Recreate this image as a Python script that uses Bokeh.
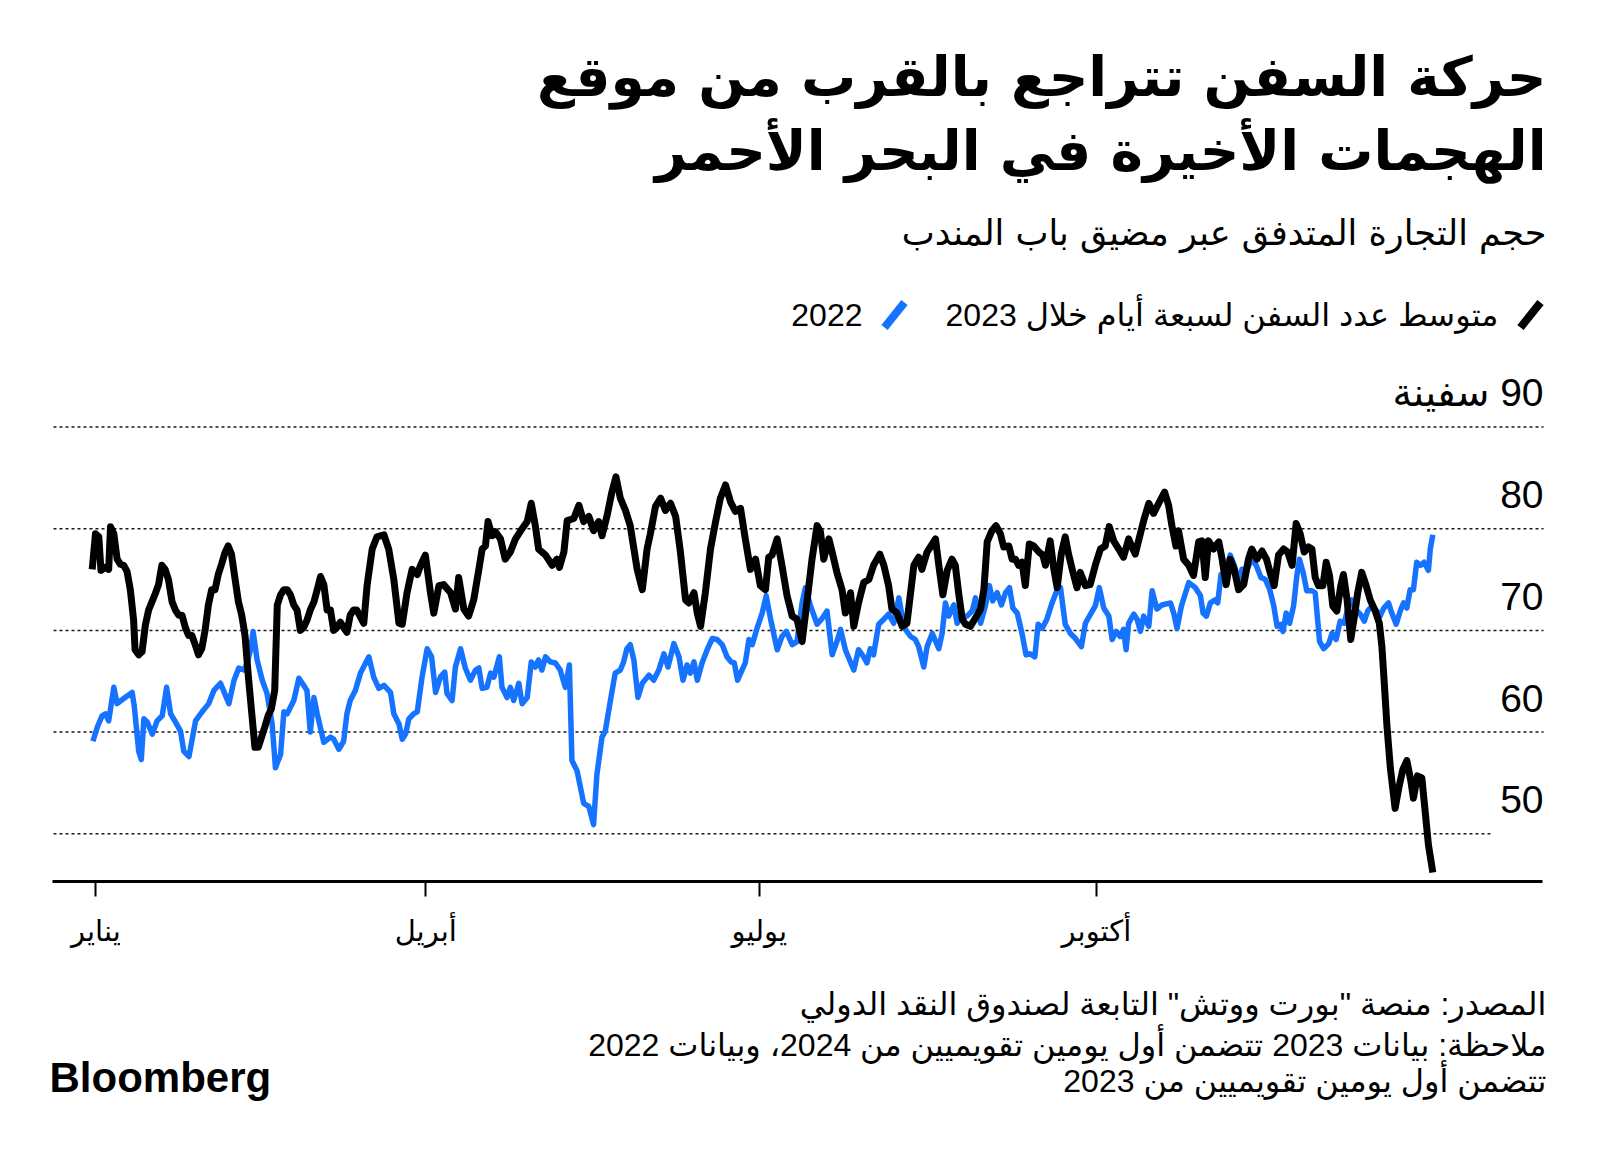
from bokeh.plotting import figure
from bokeh.models import Range1d, FixedTicker
from bokeh.layouts import column
from bokeh.embed import file_html
from bokeh.resources import INLINE
from bokeh.core.properties import value

# ---------------- data ----------------
# day of year (0 = 1 Jan), 7-day average number of ships
ships_2023_day = [0, 0.9, 1.8, 2.4, 3.5, 4.5, 5.0, 5.9, 6.8, 7.7, 8.6, 9.5, 10.4, 11.3, 11.7, 12.7, 13.6, 14.5, 15.4, 16.3,
                  17.2, 18.1, 19.0, 19.9, 20.8, 21.8, 22.7, 23.6, 24.5, 25.4, 26.3, 27.2, 28.1, 29.0, 29.9, 30.8, 31.7,
                  32.6, 33.5, 34.4, 35.3, 36.2, 37.1, 38.0, 39.0, 39.9, 40.8, 41.7, 42.6, 43.5, 44.4, 45.3, 46.2, 47.1,
                  48.0, 48.9, 49.8, 50.5, 51.4, 52.3, 53.2, 54.1, 55.0, 55.9, 56.8, 57.7, 58.6, 59.5, 60.5, 61.4, 62.3,
                  63.2, 64.1, 65.0, 65.9, 66.8, 67.7, 68.6, 69.5, 70.4, 71.3, 72.2, 74.1, 75.0, 76.4, 77.7, 79.6, 80.9,
                  82.3, 83.7, 84.6, 85.9, 87.3, 88.7, 89.6, 90.9, 92.3, 93.2, 94.6, 95.9, 97.8, 99.1, 100.0, 101.4,
                  102.7, 104.1, 105.5, 106.4, 107.3, 108.0, 109.1, 110.0, 111.4, 112.7, 114.1, 115.5, 117.3, 118.7,
                  119.8, 120.9, 121.8, 123.7, 125.5, 126.8, 127.5, 128.7, 129.6, 131.4, 132.8, 134.1, 135.5, 136.8,
                  138.2, 139.1, 140.5, 141.8, 142.9, 144.1, 145.5, 146.8, 148.7, 150.1, 151.4, 152.3, 153.7, 155.1,
                  156.4, 157.8, 159.2, 160.5, 161.9, 162.8, 164.2, 165.1, 166.0, 167.3, 168.7, 170.1, 171.4, 172.8,
                  174.2, 175.5, 176.9, 178.2, 179.6, 181.0, 182.3, 183.7, 184.6, 185.5, 186.9, 188.2, 189.6, 191.0,
                  192.3, 193.7, 195.1, 196.4, 197.8, 198.7, 199.6, 201.0, 201.9, 203.2, 204.6, 205.5, 206.9, 207.8,
                  209.1, 210.5, 211.9, 213.2, 214.9, 216.0, 217.3, 218.2, 219.6, 221.0, 222.3, 224.2, 225.5, 226.4,
                  227.8, 228.7, 230.1, 231.0, 232.1, 233.3, 234.6, 235.5, 236.4, 237.4, 238.3, 239.6, 241.0, 242.4,
                  243.3, 244.2, 245.5, 246.6, 247.8, 248.7, 250.1, 251.0, 251.9, 252.8, 253.7, 254.6, 255.7, 256.9,
                  258.3, 259.4, 260.1, 261.4, 262.4, 263.3, 264.4, 265.5, 266.4, 267.4, 268.7, 269.6, 271.0, 272.3,
                  273.7, 275.1, 276.4, 277.5, 278.7, 280.1, 281.4, 282.8, 283.7, 284.6, 285.5, 286.9, 288.3, 289.6,
                  291.0, 292.6, 293.7, 294.6, 295.7, 296.4, 297.8, 299.2, 300.5, 301.9, 302.8, 303.7, 304.6, 306.0,
                  307.4, 308.3, 309.4, 310.5, 311.6, 312.8, 314.2, 315.5, 316.4, 317.8, 319.2, 320.4, 321.4, 322.5,
                  323.7, 325.1, 326.2, 327.4, 328.5, 329.6, 330.7, 331.9, 332.8, 333.7, 334.6, 335.8, 336.7, 337.6,
                  338.5, 339.6, 340.7, 341.4, 342.4, 343.4, 344.4, 345.3, 346.4, 347.6, 348.7, 350.1, 351.2, 351.9,
                  352.5, 353.3, 354.2, 355.5, 356.5, 357.6, 358.7, 359.8, 360.5, 361.6, 362.8, 363.7, 364.6, 365.8]
ships_2023 = [76.0, 79.5, 79.2, 75.9, 76.2, 76.0, 80.2, 79.5, 77.0, 76.5, 76.4, 75.8, 74.0, 71.0, 68.1, 67.6, 67.9, 70.5,
              72.0, 72.8, 73.6, 74.5, 76.4, 76.0, 75.0, 72.8, 72.0, 71.5, 71.5, 70.3, 69.5, 69.5, 68.6, 67.6, 68.2, 70.0,
              72.5, 74.0, 74.0, 75.5, 76.5, 77.6, 78.3, 77.5, 75.0, 72.8, 71.5, 69.5, 65.5, 62.0, 58.5, 58.5, 59.5, 60.5,
              61.6, 62.3, 64.1, 72.5, 73.5, 74.0, 74.0, 73.5, 72.5, 72.0, 70.0, 70.3, 71.0, 72.0, 72.8, 74.0, 75.3, 74.5,
              72.0, 72.0, 70.0, 70.3, 70.8, 70.3, 69.8, 71.5, 72.0, 72.0, 70.7, 74.4, 78.0, 79.2, 79.4, 78.0, 75.0, 70.7,
              70.6, 73.7, 76.0, 75.5, 76.4, 77.4, 73.7, 71.7, 74.4, 74.5, 73.7, 72.1, 75.2, 72.1, 71.4, 73.0, 76.0, 78.0,
              78.3, 80.7, 79.3, 79.7, 79.0, 77.0, 77.7, 79.0, 80.0, 80.7, 82.5, 80.3, 78.0, 77.4, 76.4, 77.0, 76.2, 77.7,
              80.8, 81.0, 82.3, 80.7, 81.2, 79.8, 80.7, 79.3, 81.3, 83.6, 85.1, 83.0, 81.8, 80.3, 76.0, 74.0, 78.0, 79.5,
              82.2, 83.0, 81.8, 82.5, 81.2, 77.7, 73.0, 72.7, 73.7, 71.7, 70.4, 73.7, 78.0, 80.7, 83.0, 84.3, 82.6, 81.7,
              82.0, 79.0, 76.0, 77.0, 74.4, 74.0, 77.2, 77.4, 79.0, 76.4, 73.4, 71.4, 71.1, 68.9, 73.0, 77.0, 80.3, 79.7,
              77.0, 79.0, 77.7, 75.7, 74.0, 71.7, 73.7, 70.4, 72.7, 74.7, 75.0, 76.4, 77.5, 76.4, 74.4, 72.1, 71.7, 70.4,
              70.7, 76.4, 77.2, 76.0, 77.7, 78.2, 79.0, 76.4, 73.5, 75.9, 77.0, 76.4, 73.7, 71.1, 70.6, 70.4, 71.2, 72.1,
              74.0, 78.7, 79.8, 80.3, 79.5, 78.2, 78.3, 77.0, 77.0, 76.4, 76.7, 74.4, 78.5, 78.3, 77.7, 77.4, 76.4, 78.8,
              76.0, 74.2, 77.5, 79.2, 77.5, 76.0, 74.2, 75.7, 74.4, 74.5, 76.4, 78.0, 78.3, 80.2, 78.8, 78.0, 77.2, 79.0,
              78.2, 77.5, 78.8, 80.8, 82.5, 81.5, 82.5, 83.6, 82.3, 80.3, 78.3, 79.8, 77.0, 76.4, 75.4, 78.7, 78.8, 75.2,
              78.8, 78.0, 78.7, 77.0, 74.5, 77.0, 76.0, 74.0, 74.5, 77.0, 78.0, 77.0, 77.8, 77.0, 75.7, 74.4, 77.4, 78.0,
              77.7, 76.4, 80.5, 79.5, 77.7, 78.2, 78.0, 75.2, 74.4, 74.4, 76.7, 75.4, 72.4, 71.9, 74.4, 75.5, 73.0, 69.1,
              71.4, 73.7, 75.7, 74.4, 73.0, 71.9, 70.7, 68.4, 65.1, 60.5, 56.5, 52.5, 54.5, 56.3, 57.2, 55.2, 53.5, 55.7,
              55.5, 52.2, 48.9, 46.2]

ships_2022_day = [0.2, 1.4, 2.7, 3.6, 4.5, 5.9, 6.8, 8.6, 10.9, 11.5, 12.7, 13.4, 14.1, 15.0, 16.4, 17.7, 19.1, 20.3,
                  21.4, 22.7, 24.1, 25.0, 26.4, 28.2, 30.0, 31.8, 33.2, 35.0, 37.3, 38.7, 40.0, 41.4, 42.3, 43.2, 43.9,
                  45.0, 46.4, 47.7, 49.1, 50.0, 51.4, 52.3, 53.2, 55.0, 56.4, 57.7, 58.6, 59.5, 60.5, 61.4, 63.2, 65.0,
                  65.9, 67.3, 68.6, 69.5, 70.4, 71.8, 73.2, 75.5, 76.8, 78.2, 79.6, 81.4, 82.3, 83.7, 84.6, 85.5, 86.4,
                  87.7, 88.7, 90.0, 91.4, 92.6, 93.7, 95.0, 96.2, 96.8, 98.2, 99.1, 100.5, 101.8, 103.2, 104.6, 105.5,
                  106.4, 107.7, 108.7, 109.6, 111.1, 111.8, 113.2, 114.1, 115.0, 116.4, 117.3, 118.7, 119.8, 120.9,
                  121.8, 122.7, 123.7, 125.0, 126.4, 127.7, 129.1, 130.2, 130.9, 132.3, 134.1, 135.5, 136.8, 137.7,
                  139.1, 140.0, 141.4, 142.7, 144.1, 145.0, 145.9, 146.8, 147.8, 148.9, 150.1, 151.9, 153.2, 154.6,
                  156.0, 157.1, 158.7, 160.1, 161.2, 162.3, 163.2, 164.2, 165.1, 166.4, 167.8, 169.2, 170.5, 171.9,
                  173.2, 174.3, 175.2, 176.1, 177.3, 178.2, 179.2, 180.1, 181.4, 182.8, 183.9, 185.1, 186.9, 188.2,
                  189.4, 191.0, 192.3, 193.7, 194.6, 196.0, 197.8, 199.2, 200.5, 201.9, 203.2, 204.2, 205.5, 207.8,
                  209.1, 210.5, 211.4, 212.3, 213.2, 214.6, 216.0, 217.3, 218.7, 220.1, 221.0, 221.9, 223.3, 224.6,
                  225.5, 226.9, 227.8, 229.2, 231.0, 231.9, 232.8, 233.7, 235.1, 236.0, 237.4, 238.7, 240.1, 241.0,
                  242.4, 243.7, 244.8, 245.7, 246.9, 248.1, 249.2, 250.3, 251.2, 252.4, 253.7, 254.8, 255.9, 257.2,
                  258.1, 259.2, 260.5, 261.9, 263.3, 264.2, 265.5, 266.9, 268.3, 269.9, 271.0, 272.4, 273.7, 274.8,
                  276.0, 277.4, 278.3, 279.4, 280.5, 281.4, 282.1, 282.8, 284.2, 285.1, 286.0, 286.9, 288.3, 289.2,
                  290.5, 291.9, 294.2, 295.1, 296.0, 297.2, 299.2, 301.0, 302.4, 303.1, 304.0, 305.1, 306.4, 307.1,
                  308.0, 309.2, 310.5, 311.6, 312.8, 313.7, 315.1, 316.4, 317.6, 318.9, 320.1, 321.3, 322.4, 323.3,
                  324.2, 324.9, 325.8, 326.7, 327.8, 328.7, 329.4, 330.4, 331.4, 332.8, 333.7, 334.9, 336.0, 337.4,
                  338.3, 339.4, 340.5, 341.6, 342.8, 343.7, 344.6, 346.0, 347.1, 348.0, 349.2, 350.5, 351.4, 352.4,
                  353.7, 354.6, 355.8, 356.9, 357.8, 358.7, 359.6, 360.5, 361.4, 362.4, 363.4, 364.6, 365.1, 365.8]
ships_2022 = [59.1, 60.5, 61.6, 61.8, 61.1, 64.4, 62.8, 63.3, 63.9, 62.5, 58.1, 57.3, 61.3, 61.0, 59.8, 61.1, 61.6, 64.4,
              61.8, 61.0, 60.1, 58.1, 57.6, 61.1, 62.0, 62.8, 64.1, 64.8, 62.8, 65.1, 66.3, 66.1, 66.8, 68.1, 69.9, 67.1,
              65.1, 63.8, 60.8, 56.5, 57.8, 62.0, 61.8, 63.1, 65.3, 64.6, 64.1, 60.0, 63.4, 61.8, 59.0, 59.5, 59.3, 58.3,
              59.1, 61.8, 63.1, 64.1, 65.8, 67.4, 65.4, 64.3, 64.6, 63.9, 61.8, 60.8, 59.3, 59.8, 61.3, 61.8, 62.0, 65.4,
              68.2, 67.4, 63.9, 65.4, 65.9, 63.8, 63.1, 66.4, 68.2, 66.3, 65.1, 66.1, 66.3, 64.3, 64.4, 65.8, 65.4, 67.4,
              64.4, 63.4, 64.4, 63.1, 64.8, 62.8, 63.4, 66.9, 66.4, 67.1, 66.1, 67.4, 66.9, 66.8, 66.1, 64.4, 66.6, 57.2,
              56.2, 53.0, 52.7, 50.9, 55.8, 59.5, 60.1, 63.1, 65.8, 66.1, 66.9, 68.2, 68.6, 67.1, 63.4, 64.8, 65.6, 65.1,
              66.1, 67.7, 66.4, 68.7, 67.4, 65.1, 66.6, 65.8, 66.9, 65.1, 66.8, 68.1, 69.2, 69.1, 68.6, 67.4, 66.9, 66.8,
              65.1, 66.1, 66.8, 69.1, 68.6, 70.2, 71.7, 73.4, 71.1, 68.1, 69.4, 69.9, 68.6, 68.9, 72.7, 74.2, 72.4, 70.6,
              71.2, 71.9, 67.6, 68.9, 70.1, 68.1, 66.1, 68.1, 67.4, 66.8, 68.2, 67.6, 70.6, 71.1, 71.6, 70.7, 73.2, 71.4,
              70.1, 69.4, 69.1, 68.4, 66.4, 68.4, 69.7, 68.2, 69.7, 72.7, 71.4, 72.5, 70.7, 71.4, 71.4, 71.9, 73.2, 70.7,
              72.4, 74.4, 72.9, 73.7, 72.5, 73.7, 74.2, 72.2, 71.7, 69.7, 67.6, 67.7, 67.4, 70.6, 70.2, 71.1, 72.7, 74.0,
              74.2, 70.6, 69.7, 69.2, 68.4, 70.7, 71.6, 72.4, 74.2, 72.2, 71.4, 69.1, 69.9, 69.4, 70.1, 68.1, 70.7, 71.6,
              71.1, 69.9, 71.4, 70.4, 73.9, 72.1, 72.5, 72.7, 71.7, 70.2, 72.4, 74.7, 74.2, 73.4, 71.7, 71.4, 72.7, 73.0,
              72.7, 75.5, 75.7, 77.4, 76.4, 74.7, 76.0, 76.0, 77.0, 76.4, 75.2, 75.0, 74.0, 72.4, 70.4, 70.6, 69.9, 71.7,
              70.7, 72.4, 75.4, 77.0, 75.7, 73.9, 73.9, 73.7, 68.9, 68.2, 68.7, 69.7, 69.1, 70.9, 70.7, 72.4, 73.0, 72.1,
              71.6, 70.9, 71.9, 72.4, 71.9, 71.4, 72.2, 72.7, 71.7, 70.6, 71.9, 72.7, 72.2, 74.0, 74.0, 76.7, 76.4, 76.7,
              75.9, 78.0, 79.4]

month_ticks = [1, 91, 182, 274]
month_labels = ["يناير", "أبريل", "يوليو", "أكتوبر"]
y_ticks = [90, 80, 70, 60, 50]
y_labels = ["\u200f90 سفينة", "80", "70", "60", "50"]

title_lines = ["حركة السفن تتراجع بالقرب من موقع", "الهجمات الأخيرة في البحر الأحمر"]
subtitle = "حجم التجارة المتدفق عبر مضيق باب المندب"
legend_labels = ["متوسط عدد السفن لسبعة أيام خلال 2023", "2022"]
footer_lines = ['المصدر: منصة "بورت ووتش" التابعة لصندوق النقد الدولي',
                "ملاحظة: بيانات 2023 تتضمن أول يومين تقويميين من 2024، وبيانات 2022",
                "تتضمن أول يومين تقويميين من 2023"]

BLACK = "#000000"
BLUE = "#1673ff"
GRID = "#1a1a1a"
AR = "DejaVu Sans"
NUM = "Liberation Sans, DejaVu Sans"
W = 1598
H_HDR, H_CH, H_FTR = 345, 615, 190


def blank(h):
    f = figure(width=W, height=h, x_range=Range1d(0, W), y_range=Range1d(h, 0),
               output_backend="svg", toolbar_location=None, min_border=0,
               x_axis_location=None, y_axis_location=None, outline_line_color=None,
               background_fill_color="white", border_fill_color="white")
    f.grid.visible = False
    return f


# ---------------- header ----------------
hdr = blank(H_HDR)
hdr.text(x=[1546, 1546], y=[76, 150], text=title_lines, text_font=value(AR), text_font_size="55px",
         text_font_style="bold", text_align="right", text_baseline="middle", text_color=BLACK)
hdr.text(x=[1546], y=[232], text=[subtitle], text_font=value(AR), text_font_size="35px",
         text_align="right", text_baseline="middle", text_color=BLACK)
hdr.segment(x0=[1520], y0=[327], x1=[1540], y1=[302], line_color=BLACK, line_width=8)
hdr.segment(x0=[884], y0=[327], x1=[904], y1=[302], line_color=BLUE, line_width=8)
hdr.text(x=[1498, 862], y=[314, 314], text=legend_labels, text_font=value(NUM), text_font_size="32px",
         text_align="right", text_baseline="middle", text_color=BLACK)

# ---------------- chart ----------------
# day -> pixel: 91.7 + 3.665 * day ; frame spans the whole width
XS, XE = -25.02, 411.0
AX0, AX1 = -10.83, 395.7          # extent of the axis line
G0, G1, G50 = -10.56, 396.0, 382.3  # extent of the dotted grid lines
ch = figure(width=W, height=H_CH, x_range=Range1d(XS, XE), y_range=Range1d(45.31, 98.01),
            output_backend="svg", toolbar_location=None, min_border_top=0, min_border_bottom=H_CH - 536,
            min_border_left=0, min_border_right=0, y_axis_location=None, outline_line_color=None,
            background_fill_color="white", border_fill_color="white")
ch.grid.visible = False

ch.segment(x0=[G0] * 4 + [G0], y0=y_ticks, x1=[G1] * 4 + [G50], y1=y_ticks, line_color=GRID,
           line_width=1.5, line_dash="3 3")

ch.text(x=[G1] * len(y_ticks), y=y_ticks, text=y_labels, text_font=value(NUM), text_font_size="39px",
        text_align="right", text_baseline="alphabetic", y_offset=-34, text_color=BLACK)

ch.line(ships_2022_day, ships_2022, line_color=BLUE, line_width=5.5, line_join="round")
ch.line(ships_2023_day, ships_2023, line_color=BLACK, line_width=7, line_join="round")

ax = ch.xaxis[0]
ax.bounds = (AX0, AX1)
ax.ticker = FixedTicker(ticks=month_ticks)
ax.major_label_overrides = {t: l for t, l in zip(month_ticks, month_labels)}
ax.axis_line_width = 3
ax.axis_line_color = BLACK
ax.major_tick_line_width = 2
ax.major_tick_line_color = BLACK
ax.major_tick_out = 15
ax.major_tick_in = 0
ax.minor_tick_line_color = None
ax.major_label_text_font = AR
ax.major_label_text_font_size = "29px"
ax.major_label_text_color = BLACK
ax.major_label_standoff = 17

# ---------------- footer ----------------
ftr = blank(H_FTR)
ftr.text(x=[1546] * 3, y=[43, 84, 120], text=footer_lines, text_font=value(NUM), text_font_size="32px",
         text_align="right", text_baseline="middle", text_color=BLACK)
ftr.text(x=[49], y=[117], text=["Bloomberg"], text_font=value("Liberation Sans"), text_font_size="42px",
         text_font_style="bold", text_align="left", text_baseline="middle", text_color=BLACK)

page = column(hdr, ch, ftr, spacing=0)
open("out.html", "w").write(file_html(page, INLINE))
